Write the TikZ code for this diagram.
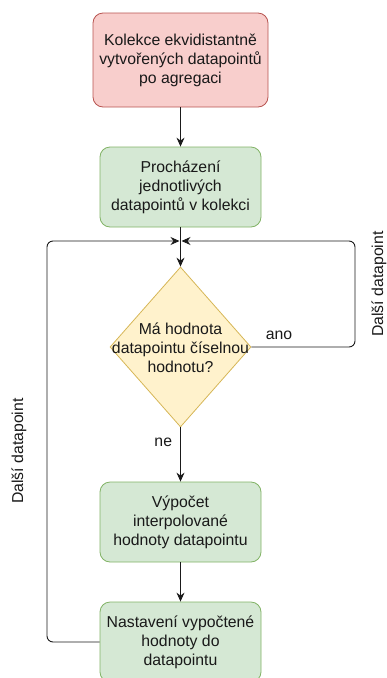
\documentclass[tikz,border=0pt]{standalone}
\usepackage{fontspec}
\setmainfont{Liberation Sans}
\usetikzlibrary{shapes.geometric,arrows.meta}
\definecolor{redfill}{HTML}{F8CECC}
\definecolor{redline}{HTML}{B85450}
\definecolor{greenfill}{HTML}{D5E8D4}
\definecolor{greenline}{HTML}{82B366}
\definecolor{yellowfill}{HTML}{FFF2CC}
\definecolor{yellowline}{HTML}{D6B656}
\definecolor{edge}{HTML}{1A1A1A}
\tikzset{
  every node/.style={font=\fontsize{15.8}{19}\selectfont, text=black!90},
  stepbox/.style={rectangle, rounded corners=10pt, align=center, inner sep=0pt,
    minimum width=161pt, minimum height=80pt, line width=0.8pt},
  startbox/.style={stepbox, fill=redfill, draw=redline, minimum width=175pt, minimum height=94pt},
  taskbox/.style={stepbox, fill=greenfill, draw=greenline},
  decision/.style={diamond, fill=yellowfill, draw=yellowline, inner sep=0pt,
    minimum width=141pt, minimum height=160pt, line width=0.8pt},
  flow/.style={draw=edge, line width=0.9pt, -{Stealth[length=9pt,width=8pt,inset=3pt]}},
  loop/.style={flow, rounded corners=6pt},
  edgelabel/.style={inner sep=0pt}
}
\begin{document}
\begin{tikzpicture}[x=1pt,y=-1pt]
  \useasboundingbox (0,0) rectangle (387,678);

  % process steps
  \node[startbox] (start) at (180.5,60) {Kolekce ekvidistantně\\vytvořených datapointů\\po agregaci};
  \node[taskbox] (iter) at (180.5,187) {Procházení\\jednotlivých\\datapointů v kolekci};
  \node[decision] (check) at (180.5,347) {};
  \node[align=center, inner sep=0pt] (checktext) at (180.5,348) {Má hodnota\\datapointu číselnou\\hodnotu?};
  \node[taskbox] (interp) at (180.5,522) {Výpočet\\interpolované\\hodnoty datapointu};
  \node[taskbox] (store) at (180.5,642) {Nastavení vypočtené\\hodnoty do\\datapointu};

  % junction where both loops come back
  \coordinate (joinL) at (179.5,241);
  \coordinate (joinR) at (181.5,241);

  % main flow
  \draw[flow] (start) -- (iter);
  \draw[flow] (iter) -- (check);
  \draw[flow] (check) -- node[edgelabel, pos=0.27, left=8pt] (nelbl) {ne} (interp);
  \draw[flow] (interp) -- (store);

  % loop back when the value is present
  \draw[loop] (check.east) -- (355,347) -- (355,241) -- (joinR);
  \node[edgelabel] (anolbl) at (279,335) {ano};
  \node[edgelabel, rotate=90] (nextR) at (379,284) {Další datapoint};

  % loop back after storing the value
  \draw[loop] (store.west) -- (47,642) -- (47,241) -- (joinL);
  \node[edgelabel, rotate=90] (nextL) at (19,451) {Další datapoint};
\end{tikzpicture}
\end{document}
